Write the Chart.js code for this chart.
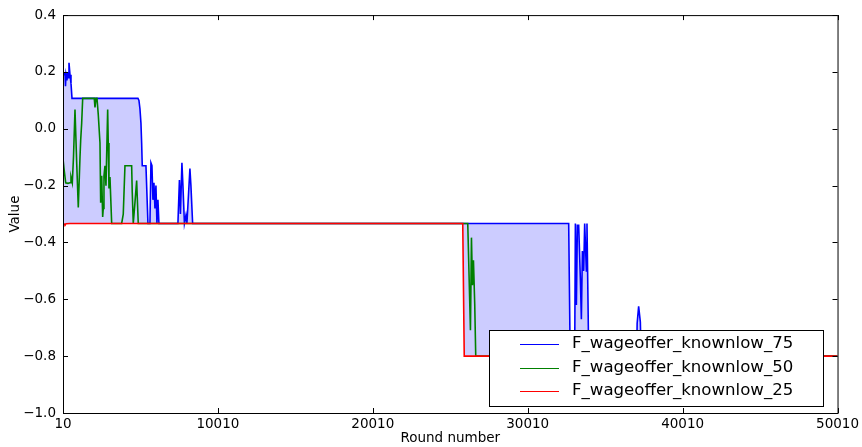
<!DOCTYPE html>
<html>
<head>
<meta charset="utf-8">
<script src="https://cdn.jsdelivr.net/npm/chart.js@4.4.1/dist/chart.umd.min.js"></script>
<style>
  body { margin: 0; background: #fff; }
</style>
</head>
<body>
<canvas id="myChart" width="862" height="447"></canvas>
<script>
// [round, value]
const wage75 = [
  [10, 0.2], [75, 0.19], [139, 0.2], [171, 0.15], [204, 0.19], [268, 0.17], [300, 0.2],
  [333, 0.18], [397, 0.232], [462, 0.19], [526, 0.16], [591, 0.107], [4849, 0.107],
  [4913, 0.1], [4978, 0.07], [5042, 0.02], [5087, -0.05], [5126, -0.13], [5365, -0.13],
  [5494, -0.333], [5623, -0.333], [5687, -0.12], [5752, -0.13], [5816, -0.25], [5881, -0.19],
  [5945, -0.28], [6010, -0.2], [6074, -0.333], [6139, -0.25], [6203, -0.333], [7429, -0.333],
  [7526, -0.18], [7590, -0.3], [7687, -0.12], [7752, -0.2], [7848, -0.333], [7945, -0.305],
  [8010, -0.333], [8203, -0.14], [8268, -0.2], [8378, -0.333], [32655, -0.333], [32752, -0.8],
  [33042, -0.8], [33087, -0.333], [33152, -0.62], [33216, -0.34], [33300, -0.34], [33410, -0.53],
  [33474, -0.67], [33539, -0.43], [33623, -0.5], [33687, -0.333], [33797, -0.5], [33836, -0.333],
  [33926, -0.709], [33977, -0.8], [37042, -0.8], [37074, -0.685], [37171, -0.625], [37281, -0.68],
  [37332, -0.8], [50010, -0.8]
];
const wage50 = [
  [10, -0.105], [75, -0.14], [184, -0.19], [333, -0.192], [462, -0.19], [526, -0.17], [610, -0.19],
  [687, -0.1], [784, 0.068], [894, -0.12], [997, -0.277], [1107, -0.1], [1152, -0.04], [1216, 0.02],
  [1281, 0.107], [2029, 0.107], [2075, 0.075], [2139, 0.107], [2204, 0.107], [2287, 0.05],
  [2397, -0.05], [2442, -0.26], [2507, -0.165], [2571, -0.31], [2610, -0.28], [2655, -0.165],
  [2720, -0.13], [2784, -0.2], [2894, 0.068], [2932, -0.05], [2978, -0.21], [3042, -0.17],
  [3152, -0.333], [3797, -0.333], [3900, -0.3], [4010, -0.13], [4442, -0.13], [4481, -0.225],
  [4546, -0.333], [4655, -0.26], [4765, -0.182], [4804, -0.24], [4868, -0.333], [26139, -0.333],
  [26313, -0.709], [26378, -0.383], [26442, -0.55], [26507, -0.463], [26590, -0.618],
  [26655, -0.8], [50010, -0.8]
];
const wage25 = [
  [10, -0.333], [75, -0.335], [139, -0.338], [204, -0.334], [462, -0.333], [25816, -0.333],
  [25913, -0.8], [50010, -0.8]
];
const seriesNames = ["F_wageoffer_knownlow_75", "F_wageoffer_knownlow_50", "F_wageoffer_knownlow_25"];
const seriesColors = ["#0000ff", "#008000", "#ff0000"];
const xTicks = [10, 10010, 20010, 30010, 40010, 50010];
const yTicks = [0.4, 0.2, 0.0, -0.2, -0.4, -0.6, -0.8, -1.0];

const FONT = "DejaVu Sans";
Chart.defaults.font.family = FONT;
Chart.defaults.font.size = 13.5;
Chart.defaults.color = "#000";

function toPoints(arr) {
  return arr.map(p => ({ x: p[0], y: p[1] }));
}

// frame, inward ticks on all four sides, legend box
const decorations = {
  id: "decorations",
  afterDatasetsDraw(chart) {
    const { ctx, chartArea: a, scales } = chart;
    ctx.save();
    ctx.strokeStyle = "#000";
    ctx.lineWidth = 1;
    ctx.beginPath();
    xTicks.forEach(v => {
      const p = Math.round(scales.x.getPixelForValue(v)) + 0.5;
      ctx.moveTo(p, a.bottom); ctx.lineTo(p, a.bottom - 5);
      ctx.moveTo(p, a.top); ctx.lineTo(p, a.top + 5);
    });
    yTicks.forEach(v => {
      const p = Math.round(scales.y.getPixelForValue(v)) + 0.5;
      ctx.moveTo(a.left, p); ctx.lineTo(a.left + 5, p);
      ctx.moveTo(a.right, p); ctx.lineTo(a.right - 5, p);
    });
    ctx.stroke();
    ctx.strokeRect(a.left + 0.5, a.top + 0.5, a.right - a.left, a.bottom - a.top);

    // legend
    const lx = 489, ly = 330, lw = 334, lh = 76;
    ctx.fillStyle = "#fff";
    ctx.fillRect(lx, ly, lw, lh);
    ctx.strokeRect(lx + 0.5, ly + 0.5, lw, lh);
    ctx.font = "16.6px '" + FONT + "'";
    ctx.textBaseline = "middle";
    ctx.textAlign = "left";
    seriesNames.forEach((name, i) => {
      const y = 344 + i * 23.5;
      ctx.strokeStyle = seriesColors[i];
      ctx.beginPath();
      ctx.moveTo(520, Math.round(y) + 0.5);
      ctx.lineTo(559, Math.round(y) + 0.5);
      ctx.stroke();
      ctx.fillStyle = "#000";
      ctx.fillText(name, 572, y);
    });
    ctx.restore();
  }
};

const ctx = document.getElementById("myChart");

new Chart(ctx, {
  type: "line",
  data: {
    datasets: [
      {
        label: seriesNames[0],
        data: toPoints(wage75),
        borderColor: seriesColors[0],
        borderWidth: 1.6,
        backgroundColor: "rgba(0,0,255,0.2)",
        fill: { target: 2 },
        order: 2,
      },
      {
        label: seriesNames[1],
        data: toPoints(wage50),
        borderColor: seriesColors[1],
        borderWidth: 1.6,
        fill: false,
        order: 1,
      },
      {
        label: seriesNames[2],
        data: toPoints(wage25),
        borderColor: seriesColors[2],
        borderWidth: 1.6,
        fill: false,
        order: 0,
      },
    ],
  },
  options: {
    responsive: false,
    animation: false,
    devicePixelRatio: 1,
    elements: { point: { radius: 0 }, line: { tension: 0 } },
    layout: { padding: { top: 12, right: 23, bottom: 0, left: 0 } },
    plugins: { legend: { display: false }, tooltip: { enabled: false } },
    scales: {
      x: {
        type: "linear",
        min: 10,
        max: 50010,
        grid: { display: false, drawTicks: false },
        border: { display: false },
        afterBuildTicks: s => { s.ticks = xTicks.map(v => ({ value: v })); },
        afterFit: s => { s.height = 34; },
        ticks: {
          padding: 3,
          maxRotation: 0,
          autoSkip: false,
          callback: v => String(v),
        },
        title: { display: true, text: "Round number", padding: { top: 0, bottom: 0 } },
      },
      y: {
        type: "linear",
        min: -1.0,
        max: 0.4,
        grid: { display: false, drawTicks: false },
        border: { display: false },
        afterBuildTicks: s => { s.ticks = yTicks.map(v => ({ value: v })); },
        afterFit: s => { s.width = 63; },
        ticks: {
          padding: 7,
          autoSkip: false,
          callback: v => {
            const t = Math.abs(v) < 1e-9 ? "0.0" : v.toFixed(1);
            return t.replace("-", "\u2212");
          },
        },
        title: { display: true, text: "Value", padding: { top: 7, bottom: 0 } },
      },
    },
  },
  plugins: [decorations],
});
</script>
</body>
</html>
